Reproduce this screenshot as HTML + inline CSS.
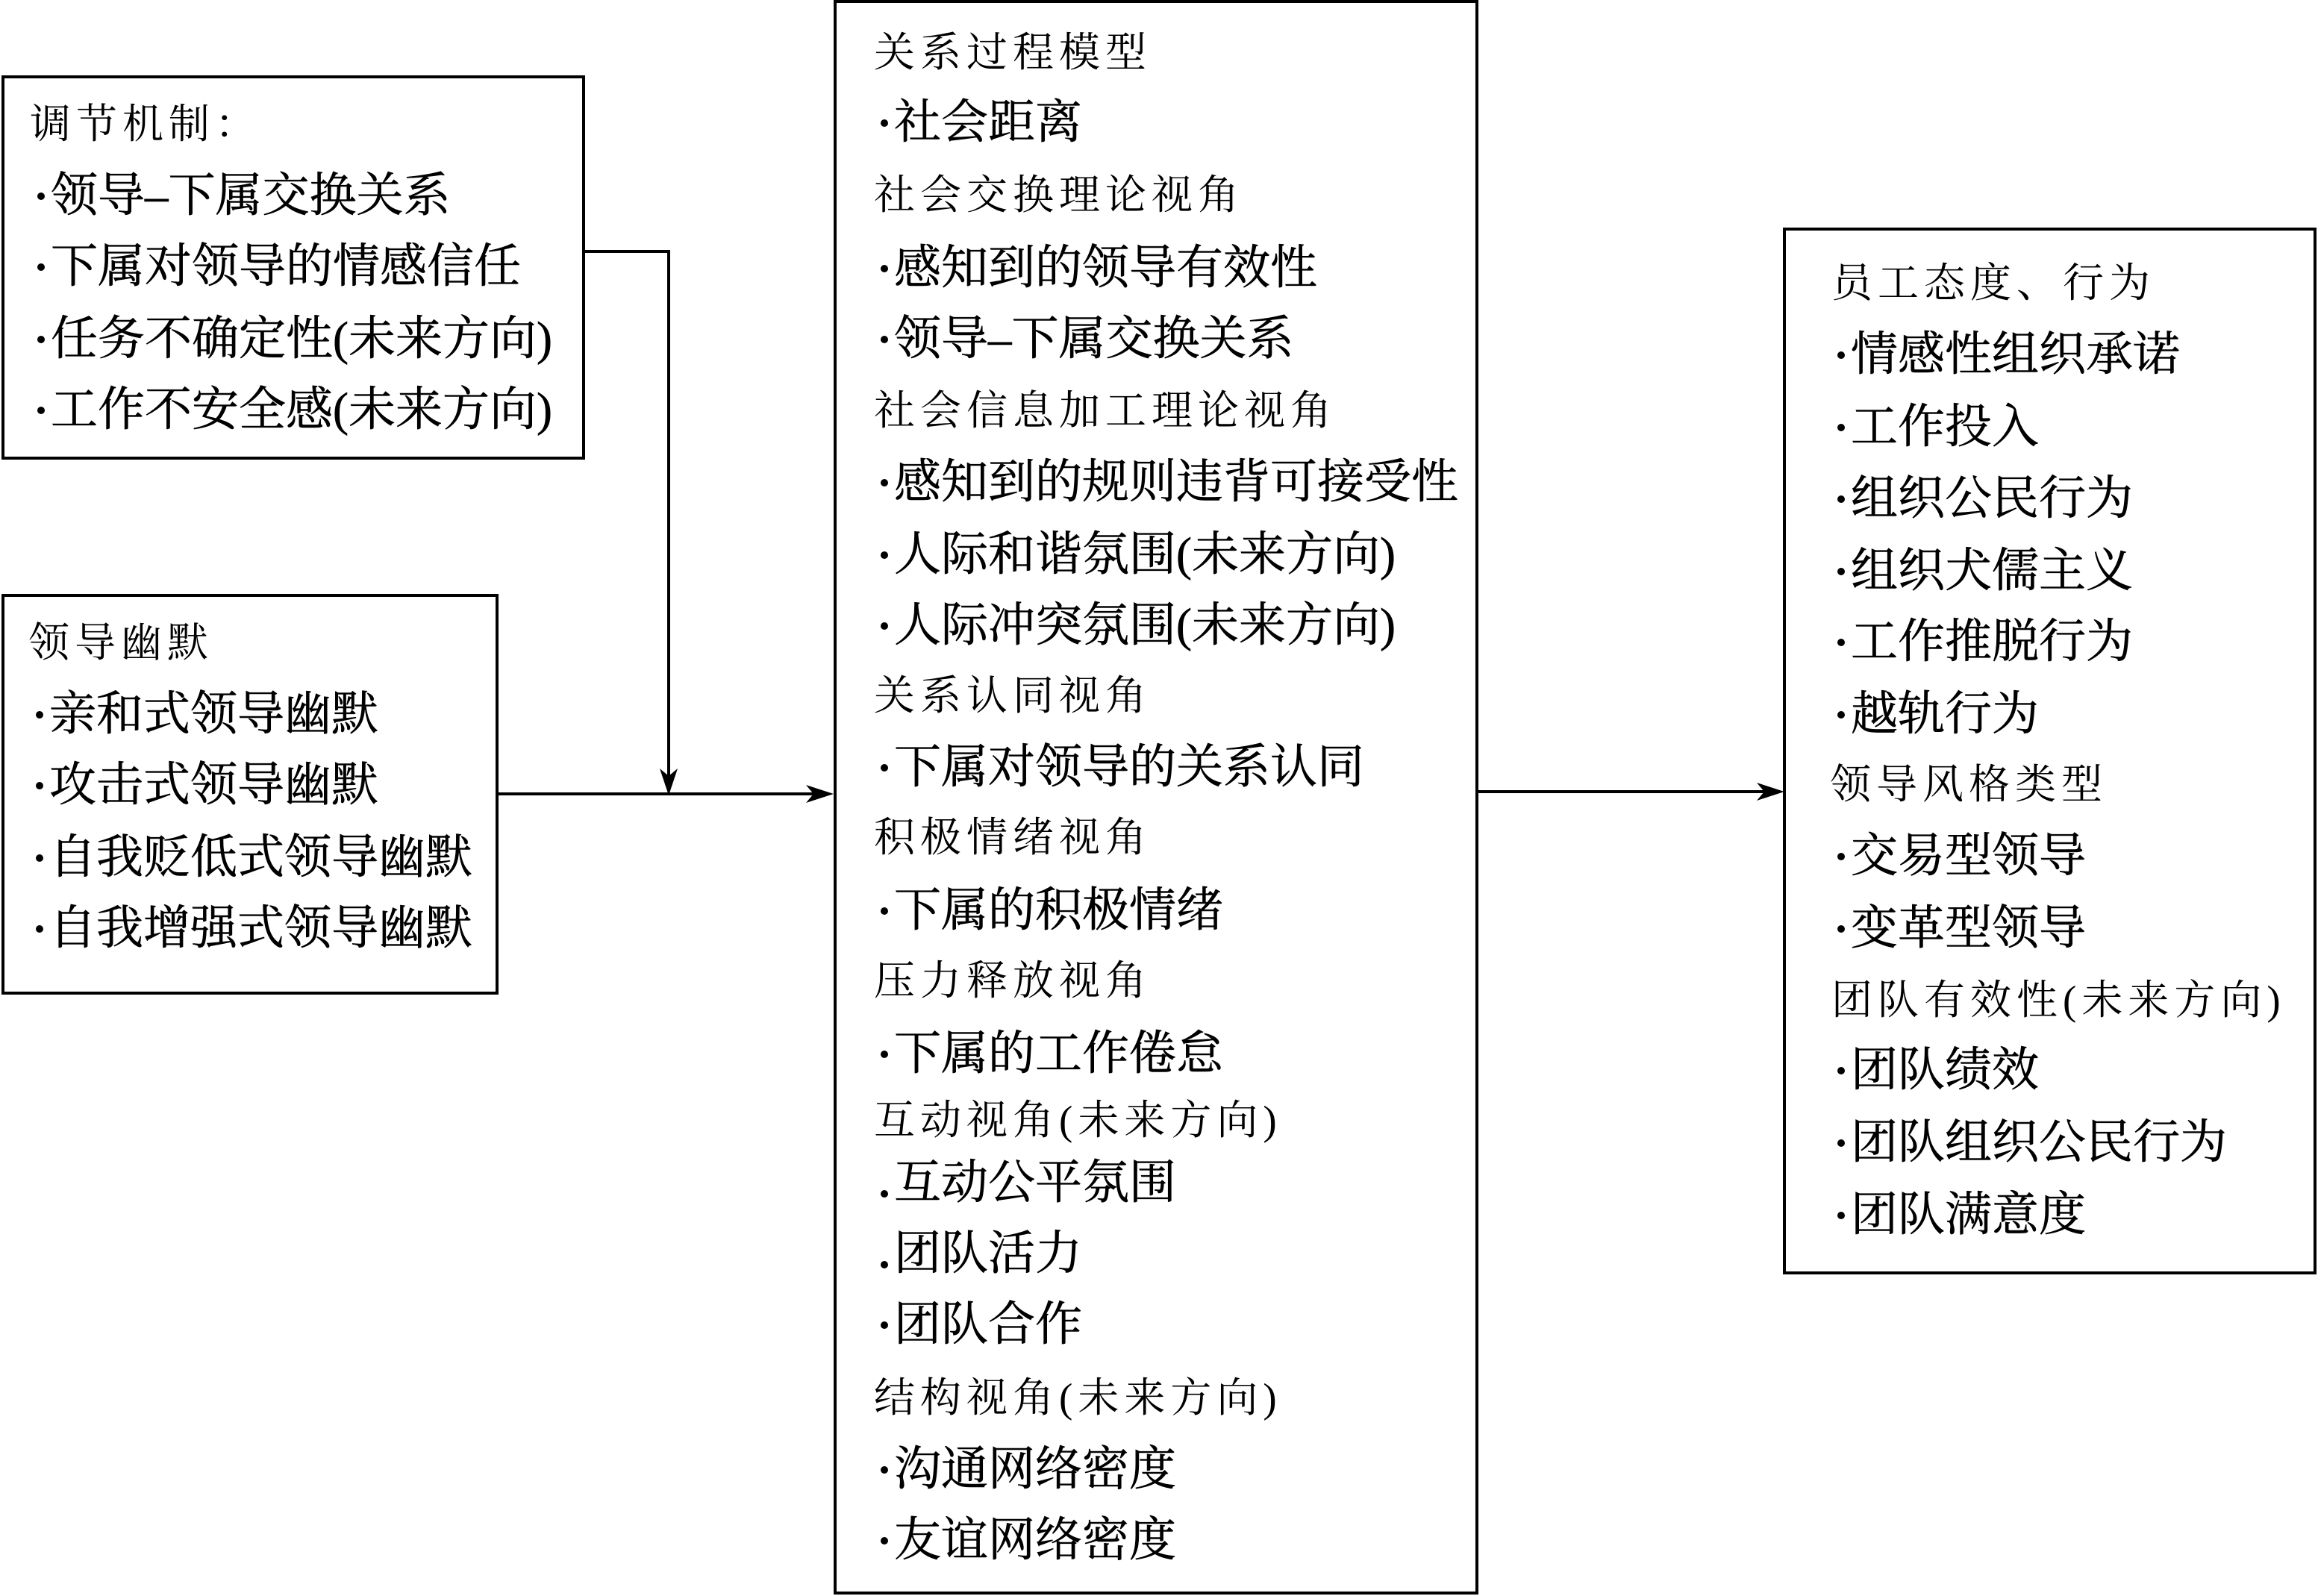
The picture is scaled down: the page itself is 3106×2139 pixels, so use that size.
<!DOCTYPE html>
<html><head><meta charset="utf-8"><style>
body{margin:0;width:3106px;height:2139px;background:#fff;position:relative;overflow:hidden;font-family:"Liberation Serif","Noto Serif CJK SC",serif;color:#000}
.t{position:absolute;white-space:nowrap;font-size:63px;line-height:60px;-webkit-text-stroke:0.6px #000}
.h{letter-spacing:7px;font-size:55px;-webkit-text-stroke:0}
.b{display:inline-block;width:10px;height:10px;border-radius:50%;background:#000;margin:0 8px 0 6px;vertical-align:middle;position:relative;top:-6px}
svg{position:absolute;left:0;top:0}
</style></head><body>
<svg width="3106" height="2139">
<g fill="none" stroke="#000" stroke-width="4">
<rect x="4" y="103" width="778" height="511"/>
<rect x="4" y="798" width="662" height="533"/>
<rect x="1119" y="2" width="860" height="2133"/>
<rect x="2391" y="307" width="711" height="1399"/>
<polyline points="782,337 896,337 896,1050"/>
<line x1="666" y1="1064" x2="1100" y2="1064"/>
<line x1="1979" y1="1061" x2="2372" y2="1061"/>
</g>
<g fill="#000">
<polygon points="884,1030 896,1066 908,1030 896,1040"/>
<polygon points="1080,1052 1117,1064 1080,1076 1090,1064"/>
<polygon points="2354,1049 2391,1061 2354,1073 2364,1061"/>
</g>
</svg>

<div class="t h" style="left:40px;top:137px">调节机制：</div>
<div class="t" style="left:44px;top:232px"><span class="b"></span>领导–下属交换关系</div>
<div class="t" style="left:44px;top:327px"><span class="b"></span>下属对领导的情感信任</div>
<div class="t" style="left:44px;top:424px"><span class="b"></span>任务不确定性(未来方向)</div>
<div class="t" style="left:44px;top:519px"><span class="b"></span>工作不安全感(未来方向)</div>

<div class="t h" style="left:38px;top:832px">领导幽默</div>
<div class="t" style="left:42px;top:927px"><span class="b"></span>亲和式领导幽默</div>
<div class="t" style="left:42px;top:1022px"><span class="b"></span>攻击式领导幽默</div>
<div class="t" style="left:42px;top:1119px"><span class="b"></span>自我贬低式领导幽默</div>
<div class="t" style="left:42px;top:1214px"><span class="b"></span>自我增强式领导幽默</div>

<div class="t h" style="left:1171px;top:41px">关系过程模型</div>
<div class="t" style="left:1174px;top:134px"><span class="b"></span>社会距离</div>
<div class="t h" style="left:1171px;top:232px">社会交换理论视角</div>
<div class="t" style="left:1174px;top:329px"><span class="b"></span>感知到的领导有效性</div>
<div class="t" style="left:1174px;top:424px"><span class="b"></span>领导–下属交换关系</div>
<div class="t h" style="left:1171px;top:521px">社会信息加工理论视角</div>
<div class="t" style="left:1174px;top:616px"><span class="b"></span>感知到的规则违背可接受性</div>
<div class="t" style="left:1174px;top:713px"><span class="b"></span>人际和谐氛围(未来方向)</div>
<div class="t" style="left:1174px;top:808px"><span class="b"></span>人际冲突氛围(未来方向)</div>
<div class="t h" style="left:1171px;top:903px">关系认同视角</div>
<div class="t" style="left:1174px;top:998px"><span class="b"></span>下属对领导的关系认同</div>
<div class="t h" style="left:1171px;top:1093px">积极情绪视角</div>
<div class="t" style="left:1174px;top:1190px"><span class="b"></span>下属的积极情绪</div>
<div class="t h" style="left:1171px;top:1285px">压力释放视角</div>
<div class="t" style="left:1174px;top:1382px"><span class="b"></span>下属的工作倦怠</div>
<div class="t h" style="left:1171px;top:1472px">互动视角(未来方向)</div>
<div class="t" style="left:1174px;top:1555px"><span class="b" style="top:8px"></span>互动公平氛围</div>
<div class="t" style="left:1174px;top:1650px"><span class="b" style="top:8px"></span>团队活力</div>
<div class="t" style="left:1174px;top:1745px"><span class="b"></span>团队合作</div>
<div class="t h" style="left:1171px;top:1844px">结构视角(未来方向)</div>
<div class="t" style="left:1174px;top:1939px"><span class="b"></span>沟通网络密度</div>
<div class="t" style="left:1174px;top:2034px"><span class="b"></span>友谊网络密度</div>

<div class="t h" style="left:2454px;top:350px">员工态度、行为</div>
<div class="t" style="left:2456px;top:445px"><span class="b"></span>情感性组织承诺</div>
<div class="t" style="left:2456px;top:542px"><span class="b"></span>工作投入</div>
<div class="t" style="left:2456px;top:638px"><span class="b"></span>组织公民行为</div>
<div class="t" style="left:2456px;top:735px"><span class="b"></span>组织犬儒主义</div>
<div class="t" style="left:2456px;top:830px"><span class="b"></span>工作推脱行为</div>
<div class="t" style="left:2456px;top:927px"><span class="b"></span>越轨行为</div>
<div class="t h" style="left:2452px;top:1022px">领导风格类型</div>
<div class="t" style="left:2456px;top:1117px"><span class="b"></span>交易型领导</div>
<div class="t" style="left:2456px;top:1214px"><span class="b"></span>变革型领导</div>
<div class="t h" style="left:2454px;top:1311px">团队有效性(未来方向)</div>
<div class="t" style="left:2456px;top:1404px"><span class="b"></span>团队绩效</div>
<div class="t" style="left:2456px;top:1501px"><span class="b"></span>团队组织公民行为</div>
<div class="t" style="left:2456px;top:1598px"><span class="b"></span>团队满意度</div>
</body></html>
